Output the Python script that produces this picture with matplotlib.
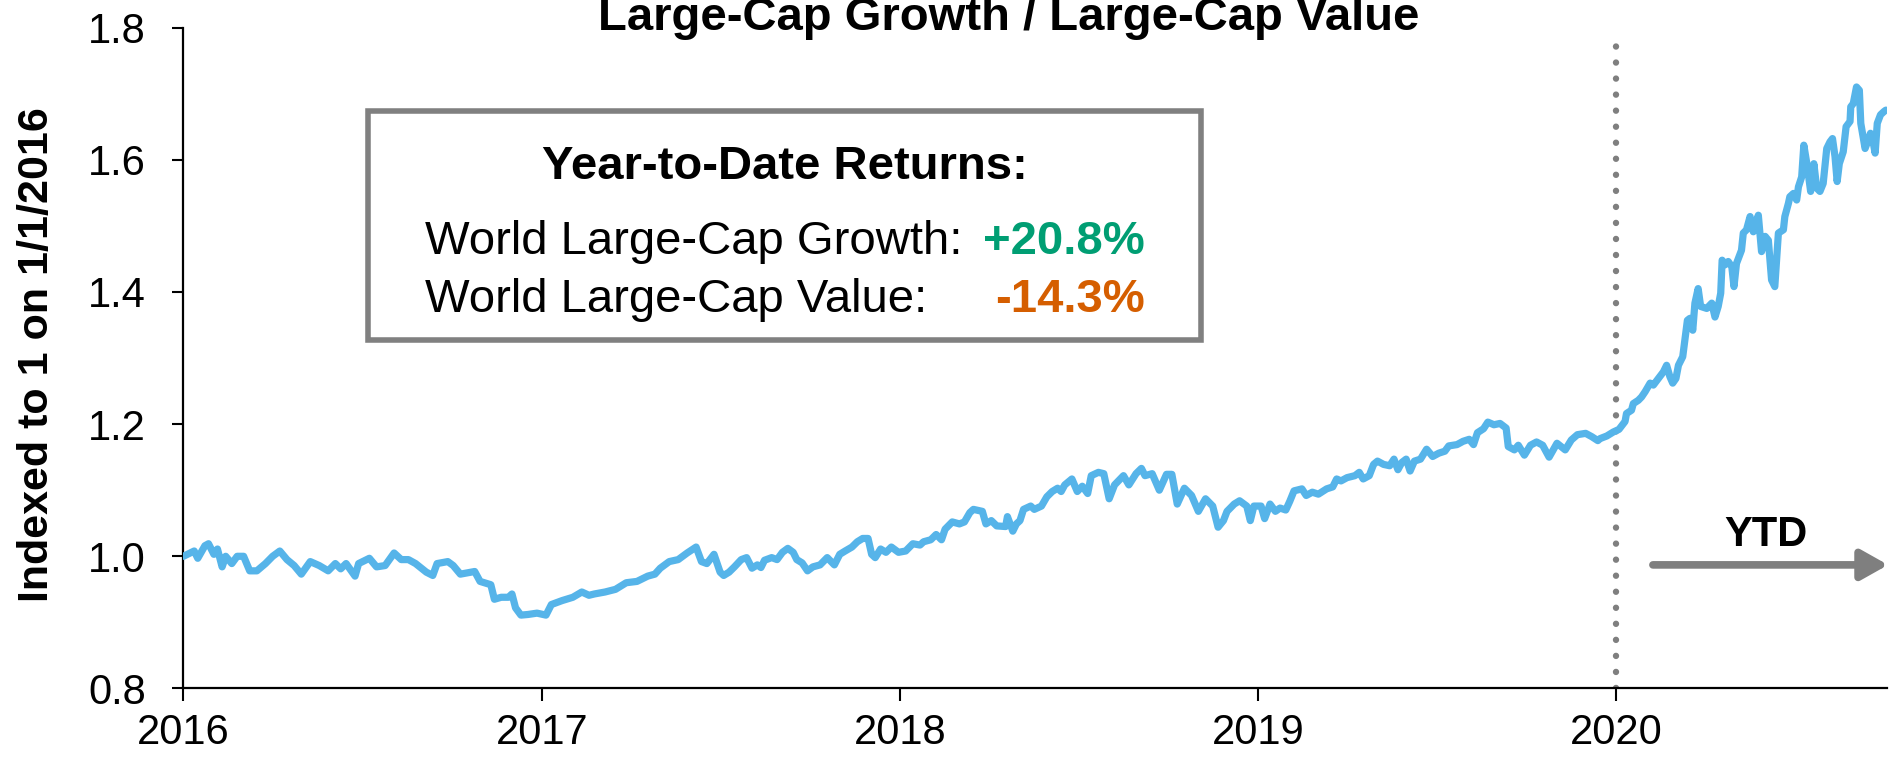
import numpy as np
import matplotlib.pyplot as plt
from matplotlib.patches import Rectangle, FancyArrowPatch

plt.rcParams['font.family'] = ['Liberation Sans', 'DejaVu Sans']

# Large-cap growth / large-cap value ratio (x in decimal years)
dates = [
    2016.000, 2016.030, 2016.040, 2016.060, 2016.070, 2016.085, 2016.095, 2016.108, 2016.118, 2016.135,
    2016.150, 2016.168, 2016.185, 2016.205, 2016.229, 2016.249, 2016.269, 2016.289, 2016.309, 2016.329,
    2016.354, 2016.379, 2016.404, 2016.424, 2016.439, 2016.454, 2016.479, 2016.489, 2016.519, 2016.539,
    2016.563, 2016.588, 2016.608, 2016.628, 2016.648, 2016.678, 2016.696, 2016.708, 2016.738, 2016.753,
    2016.773, 2016.813, 2016.828, 2016.858, 2016.868, 2016.887, 2016.907, 2016.917, 2016.927, 2016.942,
    2016.962, 2016.987, 2017.012, 2017.027, 2017.057, 2017.087, 2017.112, 2017.132, 2017.147, 2017.177,
    2017.206, 2017.236, 2017.266, 2017.296, 2017.316, 2017.331, 2017.356, 2017.381, 2017.406, 2017.431,
    2017.446, 2017.461, 2017.481,
    2017.498, 2017.508, 2017.523, 2017.538, 2017.557, 2017.572, 2017.587, 2017.602, 2017.612, 2017.622,
    2017.642, 2017.657, 2017.672, 2017.687, 2017.702, 2017.712, 2017.727, 2017.742, 2017.757, 2017.777,
    2017.797, 2017.817, 2017.832, 2017.847, 2017.866, 2017.881, 2017.896, 2017.911, 2017.921, 2017.931,
    2017.946, 2017.961, 2017.976, 2017.996, 2018.016, 2018.036, 2018.056, 2018.066, 2018.086, 2018.101,
    2018.116, 2018.126, 2018.146, 2018.166, 2018.180, 2018.195, 2018.205, 2018.230, 2018.240, 2018.255,
    2018.270, 2018.295, 2018.300, 2018.315, 2018.325, 2018.335, 2018.345, 2018.365, 2018.375, 2018.395,
    2018.410, 2018.425, 2018.440, 2018.450, 2018.460, 2018.480, 2018.495, 2018.509, 2018.524, 2018.534,
    2018.554, 2018.569, 2018.584, 2018.599, 2018.624, 2018.639, 2018.659, 2018.674, 2018.684, 2018.704,
    2018.724, 2018.744, 2018.759, 2018.774, 2018.794, 2018.814, 2018.833, 2018.853, 2018.873, 2018.888,
    2018.903, 2018.913, 2018.933, 2018.948, 2018.968, 2018.978, 2018.988, 2019.008, 2019.018, 2019.033,
    2019.048, 2019.061,
    2019.077, 2019.088, 2019.100, 2019.122, 2019.134, 2019.151, 2019.168, 2019.191, 2019.208, 2019.219,
    2019.231, 2019.248, 2019.270, 2019.282, 2019.293, 2019.310, 2019.322, 2019.333, 2019.350, 2019.367,
    2019.379, 2019.390, 2019.401, 2019.413, 2019.424, 2019.436, 2019.453, 2019.470, 2019.487, 2019.504,
    2019.521, 2019.532, 2019.555, 2019.572, 2019.589, 2019.601, 2019.612, 2019.629, 2019.641, 2019.658,
    2019.675, 2019.692, 2019.698, 2019.715, 2019.726, 2019.743, 2019.760, 2019.777, 2019.794, 2019.812,
    2019.834, 2019.857, 2019.874, 2019.891, 2019.914, 2019.931, 2019.948,
    2019.954, 2019.973, 2019.991, 2020.007, 2020.024, 2020.028, 2020.042, 2020.047, 2020.061, 2020.070,
    2020.080, 2020.094, 2020.103, 2020.117, 2020.131, 2020.140, 2020.149, 2020.157, 2020.166, 2020.173,
    2020.185, 2020.191, 2020.198, 2020.205, 2020.213, 2020.219, 2020.228, 2020.235, 2020.252, 2020.266,
    2020.275, 2020.284, 2020.291, 2020.295, 2020.303, 2020.312, 2020.322, 2020.328, 2020.335, 2020.349,
    2020.354, 2020.363, 2020.373, 2020.382, 2020.396, 2020.405, 2020.415, 2020.424, 2020.433, 2020.442,
    2020.447, 2020.452, 2020.466, 2020.470, 2020.480, 2020.484, 2020.494, 2020.503, 2020.508, 2020.517,
    2020.523, 2020.533, 2020.542, 2020.551, 2020.559, 2020.568, 2020.577, 2020.587, 2020.596, 2020.603,
    2020.610, 2020.616, 2020.622, 2020.633, 2020.641, 2020.652, 2020.654, 2020.661, 2020.670, 2020.678,
    2020.682, 2020.694, 2020.703, 2020.709, 2020.717, 2020.722, 2020.728, 2020.737, 2020.747, 2020.752,
]
ratio = [
    1.000, 1.008, 0.997, 1.016, 1.019, 1.003, 1.011, 0.984, 1.000, 0.989,
    1.000, 1.000, 0.978, 0.978, 0.989, 1.000, 1.008, 0.995, 0.986, 0.973,
    0.992, 0.986, 0.978, 0.989, 0.981, 0.989, 0.970, 0.989, 0.997, 0.984,
    0.986, 1.005, 0.995, 0.995, 0.989, 0.976, 0.971, 0.989, 0.992, 0.986,
    0.973, 0.977, 0.962, 0.957, 0.935, 0.938, 0.938, 0.943, 0.922, 0.911,
    0.912, 0.914, 0.911, 0.927, 0.933, 0.938, 0.946, 0.941, 0.943, 0.946,
    0.950, 0.960, 0.962, 0.970, 0.973, 0.982, 0.992, 0.995, 1.005, 1.014,
    0.992, 0.989, 1.003,
    0.976, 0.971, 0.976, 0.984, 0.995, 0.998, 0.982, 0.987, 0.983, 0.994,
    0.998, 0.995, 1.006, 1.012, 1.006, 0.995, 0.990, 0.978, 0.984, 0.987,
    0.998, 0.987, 1.003, 1.008, 1.014, 1.022, 1.027, 1.027, 1.003, 0.998,
    1.011, 1.006, 1.014, 1.006, 1.008, 1.019, 1.017, 1.022, 1.025, 1.033,
    1.025, 1.041, 1.052, 1.049, 1.052, 1.066, 1.071, 1.068, 1.049, 1.054,
    1.046, 1.045, 1.060, 1.038, 1.049, 1.054, 1.071, 1.076, 1.071, 1.076,
    1.090, 1.098, 1.103, 1.098, 1.108, 1.117, 1.098, 1.106, 1.095, 1.122,
    1.127, 1.125, 1.087, 1.108, 1.122, 1.108, 1.125, 1.133, 1.122, 1.125,
    1.100, 1.124, 1.124, 1.079, 1.103, 1.092, 1.068, 1.087, 1.076, 1.044,
    1.054, 1.068, 1.079, 1.084, 1.076, 1.054, 1.076, 1.076, 1.057, 1.079,
    1.068, 1.073,
    1.070, 1.083, 1.099, 1.102, 1.092, 1.097, 1.094, 1.102, 1.105, 1.117,
    1.114, 1.119, 1.122, 1.127, 1.117, 1.122, 1.139, 1.144, 1.139, 1.137,
    1.147, 1.131, 1.142, 1.147, 1.129, 1.144, 1.147, 1.162, 1.151, 1.156,
    1.159, 1.167, 1.169, 1.174, 1.177, 1.169, 1.187, 1.193, 1.203, 1.199,
    1.201, 1.194, 1.166, 1.161, 1.168, 1.153, 1.168, 1.173, 1.168, 1.150,
    1.171, 1.161, 1.176, 1.184, 1.186, 1.181, 1.175,
    1.178, 1.182, 1.188, 1.192, 1.204, 1.216, 1.221, 1.231, 1.236, 1.241,
    1.249, 1.262, 1.259, 1.269, 1.279, 1.289, 1.272, 1.262, 1.269, 1.289,
    1.302, 1.327, 1.357, 1.360, 1.342, 1.383, 1.405, 1.378, 1.375, 1.383,
    1.362, 1.378, 1.398, 1.448, 1.441, 1.446, 1.438, 1.408, 1.443, 1.463,
    1.489, 1.494, 1.514, 1.491, 1.516, 1.461, 1.484, 1.478, 1.418, 1.408,
    1.448, 1.489, 1.494, 1.514, 1.534, 1.544, 1.549, 1.539, 1.559, 1.574,
    1.622, 1.589, 1.552, 1.594, 1.557, 1.552, 1.564, 1.617, 1.627, 1.632,
    1.605, 1.567, 1.594, 1.612, 1.650, 1.658, 1.680, 1.685, 1.710, 1.705,
    1.655, 1.617, 1.630, 1.640, 1.625, 1.610, 1.655, 1.668, 1.673, 1.675,
]

year_ticks = [2016, 2017, 2018, 2019, 2020]
y_ticks = [0.8, 1.0, 1.2, 1.4, 1.6, 1.8]

title = 'Large-Cap Growth / Large-Cap Value'
ylabel = 'Indexed to 1 on 1/1/2016'
box_rows = [('World Large-Cap Growth:', '+20.8%', '#009E73'),
            ('World Large-Cap Value:', '-14.3%', '#D55E00')]

LINE_BLUE = '#56B4E9'
GRAY = '#7f7f7f'

fig = plt.figure(figsize=(18.93, 7.58), dpi=100)
ax = fig.add_axes([0.0969, 0.0917, 0.8999, 0.872])

ax.plot(dates, ratio, color=LINE_BLUE, lw=5.2, solid_joinstyle='round',
        solid_capstyle='round', zorder=3)

# start of 2020 marker
ax.plot([2020, 2020], [0.8, 1.778], color=GRAY, lw=4.6,
        linestyle=(0, (0.01, 2.5)), dash_capstyle='round', zorder=2)

ax.set_xlim(2016, 2020.755)
ax.set_ylim(0.8, 1.8)
ax.set_xticks(year_ticks)
ax.set_xticklabels([str(y) for y in year_ticks])
ax.set_yticks(y_ticks)
ax.set_yticklabels([f'{v:.1f}' for v in y_ticks])

for s in ['top', 'right']:
    ax.spines[s].set_visible(False)
for s in ['left', 'bottom']:
    ax.spines[s].set_linewidth(1.6)
    ax.spines[s].set_color('black')

ax.tick_params(axis='y', direction='out', length=8, width=1.5, pad=19, labelsize=30)
ax.tick_params(axis='x', direction='out', length=9, width=1.5, pad=9, labelsize=30)

fig.text(598 / 1893, 1 - 30 / 758, title, fontsize=34, fontweight='bold',
         ha='left', va='baseline')
fig.text(37 / 1893, 1 - 355 / 758, ylabel, fontsize=31, fontweight='bold',
         rotation=90, ha='center', va='center')

# Year-to-date box
box = Rectangle((0.1083, 0.5272), 0.489, 0.3465, transform=ax.transAxes,
                facecolor='white', edgecolor='#808080', lw=4, zorder=5)
ax.add_patch(box)
ax.text(0.3528, 0.7708, 'Year-to-Date Returns:', transform=ax.transAxes,
        fontsize=34, fontweight='bold', ha='center', va='baseline', zorder=6)
for (label, val, col), yb in zip(box_rows, [0.6581, 0.5703]):
    ax.text(0.1418, yb, label, transform=ax.transAxes, fontsize=34,
            ha='left', va='baseline', zorder=6)
    ax.text(0.5641, yb, val, transform=ax.transAxes, fontsize=34,
            fontweight='bold', color=col, ha='right', va='baseline', zorder=6)

# YTD arrow
arrow = FancyArrowPatch((2020.094, 0.987), (2020.766, 0.987),
                        arrowstyle='-|>,head_length=0.8,head_width=0.45',
                        mutation_scale=20, color=GRAY, lw=5.5,
                        capstyle='round', clip_on=False, zorder=4)
ax.add_patch(arrow)
ax.text(2020.417, 1.016, 'YTD', fontsize=30, fontweight='bold',
        ha='center', va='baseline')

fig.savefig('out.png', dpi=100)
